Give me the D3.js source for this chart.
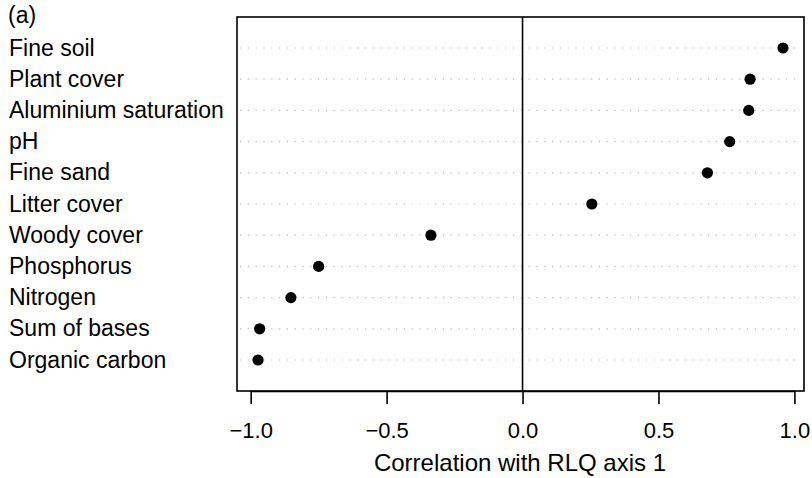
<!DOCTYPE html>
<html>
<head>
<meta charset="utf-8">
<script src="https://cdn.jsdelivr.net/npm/d3@7"></script>
<style>
  body { margin: 0; background: #fff; }
  text { font-family: "Liberation Sans", Arial, sans-serif; fill: #000; }
</style>
</head>
<body>
<div id="chart"></div>
<script>

// variables, top to bottom, as drawn
var variables = ["Fine soil", "Plant cover", "Aluminium saturation", "pH", "Fine sand",
                 "Litter cover", "Woody cover", "Phosphorus", "Nitrogen",
                 "Sum of bases", "Organic carbon"];
var correlations = [0.958, 0.837, 0.832, 0.762, 0.680, 0.255, -0.337, -0.750, -0.852, -0.967, -0.973];
var xTicks = [-1.0, -0.5, 0.0, 0.5, 1.0];

var W = 812, H = 478;
var box = {left: 237, right: 804, top: 17, bottom: 391};

var svg = d3.select("#chart").append("svg")
    .attr("width", W)
    .attr("height", H);

// R style: data range padded by 4%
var x = d3.scaleLinear().domain([-1.0503, 1.0353]).range([box.left, box.right]);
var y = d3.scalePoint().domain(variables).range([48, 360]);

// dotted guide lines
svg.selectAll(".guide")
    .data(variables).enter()
    .append("line")
    .attr("x1", box.left + 3)
    .attr("x2", box.right - 3)
    .attr("y1", function(d) { return y(d); })
    .attr("y2", function(d) { return y(d); })
    .attr("stroke", "#b8b8b8")
    .attr("stroke-width", 1.2)
    .attr("stroke-dasharray", "1.2,6.6");

// zero line
svg.append("line")
    .attr("x1", x(0)).attr("x2", x(0))
    .attr("y1", box.top).attr("y2", box.bottom)
    .attr("stroke", "#000")
    .attr("stroke-width", 1.6);

// frame
svg.append("rect")
    .attr("x", box.left)
    .attr("y", box.top)
    .attr("width", box.right - box.left)
    .attr("height", box.bottom - box.top)
    .attr("fill", "none")
    .attr("stroke", "#000")
    .attr("stroke-width", 1.6);

// points
svg.selectAll(".pt")
    .data(variables).enter()
    .append("circle")
    .attr("cx", function(d, i) { return x(correlations[i]); })
    .attr("cy", function(d) { return y(d); })
    .attr("r", 5.6)
    .attr("fill", "#000");

// row labels
svg.selectAll(".lab")
    .data(variables).enter()
    .append("text")
    .attr("x", 9)
    .attr("y", function(d) { return y(d) + 7.5; })
    .style("font-size", "23px")
    .text(function(d) { return d; });

// x axis
var xAxis = d3.axisBottom(x)
    .tickValues(xTicks)
    .tickSize(13)
    .tickPadding(18)
    .tickFormat(function(d) { return d3.format(".1f")(d).replace("-", "\u2212"); });

var gx = svg.append("g")
    .attr("transform", "translate(0," + box.bottom + ")")
    .call(xAxis);
gx.select(".domain").attr("stroke", "#000").attr("stroke-width", 1.6)
    .attr("d", "M" + x(-1) + ",0.5H" + x(1));
gx.selectAll(".tick line").attr("stroke", "#000").attr("stroke-width", 1.6);
gx.selectAll(".tick text")
    .style("font-size", "22px")
    .style("font-family", "'Liberation Sans', Arial, sans-serif")
    .attr("fill", "#000");

svg.append("text")
    .attr("x", 520)
    .attr("y", 471)
    .attr("text-anchor", "middle")
    .style("font-size", "24px")
    .text("Correlation with RLQ axis 1");

svg.append("text")
    .attr("x", 8)
    .attr("y", 23)
    .style("font-size", "23px")
    .text("(a)");

</script>
</body>
</html>
